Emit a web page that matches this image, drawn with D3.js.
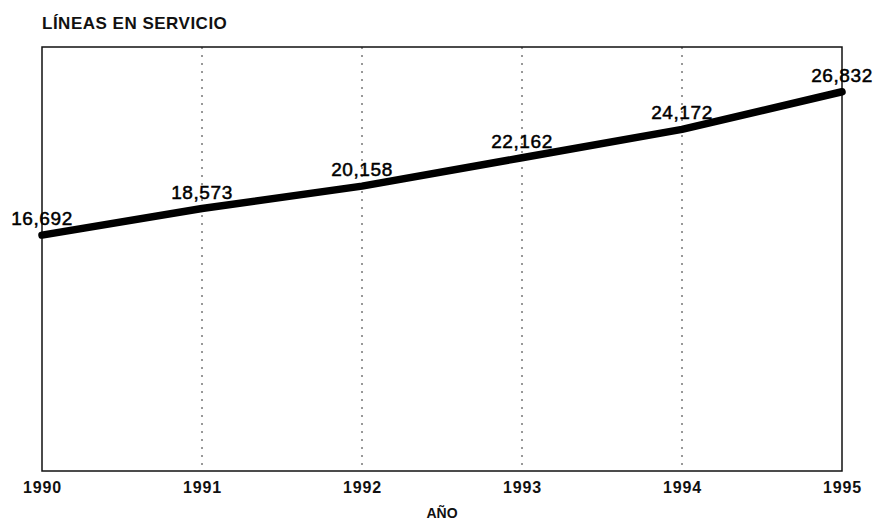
<!DOCTYPE html>
<html>
<head>
<meta charset="utf-8">
<script src="https://cdn.jsdelivr.net/npm/d3@7"></script>
<style>
  body { margin: 0; background: #fff; }
  svg { display: block; font-family: "Liberation Sans", Arial, sans-serif; }
</style>
</head>
<body>
<svg width="877" height="529"></svg>
<script>
'use strict';

var years = [1990, 1991, 1992, 1993, 1994, 1995];
var lineas = [16692, 18573, 20158, 22162, 24172, 26832];
var valueLabels = ['16,692', '18,573', '20,158', '22,162', '24,172', '26,832'];

var svg = d3.select('svg');
var plotLeft = 42, plotRight = 842, plotTop = 47, plotBottom = 471;

var x = d3.scaleLinear().domain([1990, 1995]).range([plotLeft, plotRight]);
var y = d3.scaleLinear().domain([0, 30000]).range([plotBottom, plotTop]);

// dotted year grid
svg.selectAll('line.grid')
    .data(years.slice(1, -1))
    .enter()
    .append('line')
    .attr('class', 'grid')
    .attr('x1', function (d) { return x(d); })
    .attr('x2', function (d) { return x(d); })
    .attr('y1', plotTop)
    .attr('y2', plotBottom)
    .attr('stroke', '#333')
    .attr('stroke-width', 1)
    .attr('stroke-dasharray', '2,6');

// frame
svg.append('rect')
    .attr('x', plotLeft)
    .attr('y', plotTop)
    .attr('width', plotRight - plotLeft)
    .attr('height', plotBottom - plotTop)
    .attr('fill', 'none')
    .attr('stroke', '#111')
    .attr('stroke-width', 1.5);

// x axis labels
var xAxis = d3.axisBottom(x)
    .tickValues(years)
    .tickFormat(d3.format('d'))
    .tickSize(0)
    .tickPadding(11);

var gx = svg.append('g')
    .attr('transform', 'translate(0,' + plotBottom + ')')
    .call(xAxis);
gx.select('.domain').remove();
gx.selectAll('text')
    .attr('font-family', '"Liberation Sans", Arial, sans-serif')
    .attr('font-size', 16)
    .attr('font-weight', 'bold')
    .attr('letter-spacing', 0.8)
    .attr('fill', '#111');

// the line
var line = d3.line()
    .x(function (d, i) { return x(years[i]); })
    .y(function (d) { return y(d); });

svg.append('path')
    .datum(lineas)
    .attr('d', line)
    .attr('fill', 'none')
    .attr('stroke', '#000')
    .attr('stroke-width', 7.5)
    .attr('stroke-linecap', 'round')
    .attr('stroke-linejoin', 'round');

// value labels
svg.selectAll('text.val')
    .data(lineas)
    .enter()
    .append('text')
    .attr('class', 'val')
    .attr('x', function (d, i) { return x(years[i]); })
    .attr('y', function (d) { return y(d) - 10; })
    .attr('text-anchor', 'middle')
    .attr('font-size', 19)
    .attr('letter-spacing', 0.6)
    .attr('fill', '#000')
    .attr('stroke', '#000')
    .attr('stroke-width', 0.5)
    .text(function (d, i) { return valueLabels[i]; });

// title
svg.append('text')
    .attr('x', plotLeft)
    .attr('y', 29)
    .attr('font-size', 17)
    .attr('font-weight', 'bold')
    .attr('letter-spacing', 0.5)
    .attr('fill', '#111')
    .text('LÍNEAS EN SERVICIO');

// x axis title
svg.append('text')
    .attr('x', (plotLeft + plotRight) / 2)
    .attr('y', 518)
    .attr('text-anchor', 'middle')
    .attr('font-size', 14)
    .attr('font-weight', 'bold')
    .attr('fill', '#111')
    .text('AÑO');
</script>
</body>
</html>
